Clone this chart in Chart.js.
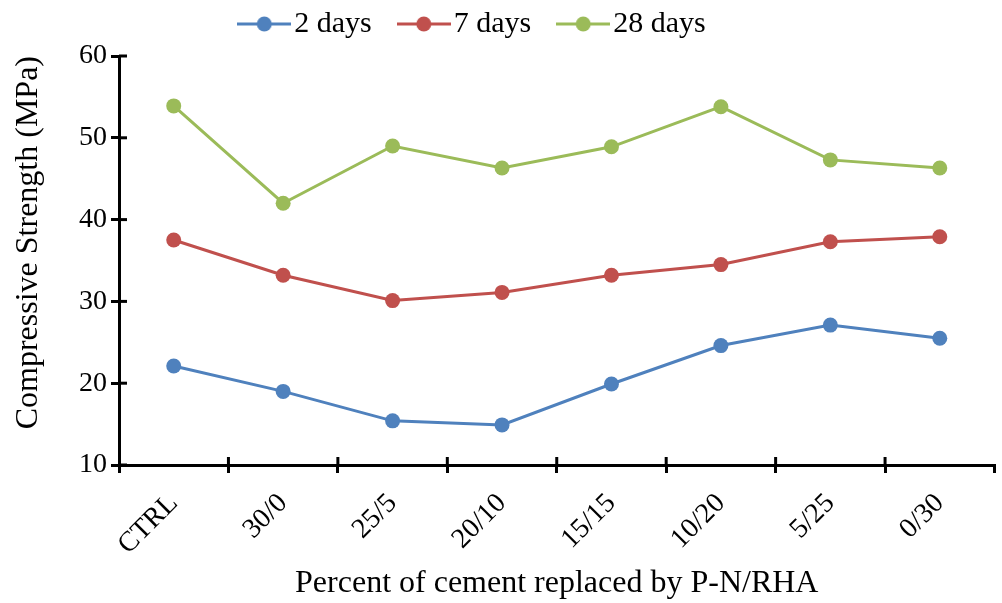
<!DOCTYPE html>
<html>
<head>
<meta charset="utf-8">
<script src="https://cdn.jsdelivr.net/npm/chart.js@4/dist/chart.umd.min.js"></script>
<style>
  html, body { margin: 0; padding: 0; background: #fff; }
  #wrap { width: 1002px; height: 603px; }
</style>
</head>
<body>
<div id="wrap"><canvas id="strengthChart"></canvas></div>
<script>
const categories = ['CTRL', '30/0', '25/5', '20/10', '15/15', '10/20', '5/25', '0/30'];
const days2 = [22.1, 19.0, 15.4, 14.9, 19.9, 24.6, 27.1, 25.5];
const days7 = [37.5, 33.2, 30.1, 31.1, 33.2, 34.5, 37.3, 37.9];
const days28 = [53.9, 42.0, 49.0, 46.3, 48.9, 53.8, 47.3, 46.3];
const yTicks = [10, 20, 30, 40, 50, 60];

const serif = "'Liberation Serif', 'Times New Roman', serif";

// legend marker: short line with a dot in the middle
function legendMarker(color) {
  const c = document.createElement('canvas');
  c.width = 54;
  c.height = 16;
  const g = c.getContext('2d');
  g.strokeStyle = color;
  g.lineWidth = 3;
  g.beginPath();
  g.moveTo(0, 8);
  g.lineTo(54, 8);
  g.stroke();
  g.fillStyle = color;
  g.beginPath();
  g.arc(27, 8, 7.5, 0, Math.PI * 2);
  g.fill();
  return c;
}

function series(label, values, color) {
  return {
    label: label,
    data: values,
    borderColor: color,
    backgroundColor: color,
    borderWidth: 3,
    pointRadius: 7.5,
    pointHoverRadius: 7.5,
    pointBorderWidth: 0,
    pointStyle: 'circle',
    tension: 0
  };
}

// inner half of the crossing tick marks
const innerTicks = {
  id: 'innerTicks',
  afterDraw(chart) {
    const { ctx, chartArea, scales } = chart;
    ctx.save();
    ctx.strokeStyle = '#000';
    ctx.lineWidth = 3;
    yTicks.forEach(v => {
      const y = scales.y.getPixelForValue(v);
      ctx.beginPath();
      ctx.moveTo(chartArea.left, y);
      ctx.lineTo(chartArea.left + 8, y);
      ctx.stroke();
    });
    for (let i = 1; i < categories.length; i++) {
      const x = (scales.x.getPixelForValue(i - 1) + scales.x.getPixelForValue(i)) / 2;
      ctx.beginPath();
      ctx.moveTo(x, chartArea.bottom);
      ctx.lineTo(x, chartArea.bottom - 8);
      ctx.stroke();
    }
    ctx.restore();
  }
};

// nudge legend to the left/up like in the original figure
const legendShift = {
  id: 'legendShift',
  afterLayout(chart) {
    chart.legend.left -= 47;
    chart.legend.top -= 7;
  }
};

const ctx = document.getElementById('strengthChart').getContext('2d');

new Chart(ctx, {
  type: 'line',
  data: {
    labels: categories,
    datasets: [
      series('2 days', days2, '#4F81BD'),
      series('7 days', days7, '#C0504D'),
      series('28 days', days28, '#9BBB59')
    ]
  },
  options: {
    responsive: true,
    maintainAspectRatio: false,
    animation: false,
    layout: { padding: { top: -21, right: 0, bottom: 0, left: 0 } },
    plugins: {
      legend: {
        position: 'top',
        labels: {
          usePointStyle: true,
          pointStyleWidth: 30,
          boxHeight: 16,
          padding: 37,
          color: '#000',
          font: { family: serif, size: 30 },
          generateLabels(chart) {
            return chart.data.datasets.map((ds, i) => ({
              text: ds.label,
              fillStyle: ds.borderColor,
              strokeStyle: ds.borderColor,
              lineWidth: 0,
              pointStyle: legendMarker(ds.borderColor),
              fontColor: '#000',
              datasetIndex: i,
              hidden: false
            }));
          }
        }
      },
      tooltip: { enabled: false }
    },
    scales: {
      x: {
        offset: true,
        afterFit(scale) { scale.height = 138; },
        grid: {
          offset: true,
          drawOnChartArea: false,
          color: '#000',
          lineWidth: 3,
          tickLength: 8
        },
        border: { color: '#000', width: 3 },
        ticks: {
          color: '#000',
          font: { family: serif, size: 28 },
          minRotation: 45,
          maxRotation: 45,
          padding: 14
        },
        title: {
          display: true,
          text: 'Percent of cement replaced by P-N/RHA',
          color: '#000',
          font: { family: serif, size: 32 },
          padding: { top: 0, bottom: 0 }
        }
      },
      y: {
        min: 10,
        max: 60,
        afterFit(scale) { scale.width = 119; },
        afterBuildTicks(scale) { scale.ticks = yTicks.map(v => ({ value: v })); },
        grid: {
          drawOnChartArea: false,
          color: '#000',
          lineWidth: 3,
          tickLength: 8
        },
        border: { color: '#000', width: 3 },
        ticks: {
          color: '#000',
          font: { family: serif, size: 28 },
          padding: 4
        },
        title: {
          display: true,
          align: 'end',
          text: 'Compressive Strength (MPa)',
          color: '#000',
          font: { family: serif, size: 32 },
          padding: { top: 9, bottom: 0 }
        }
      }
    }
  },
  plugins: [innerTicks, legendShift]
});
</script>
</body>
</html>
